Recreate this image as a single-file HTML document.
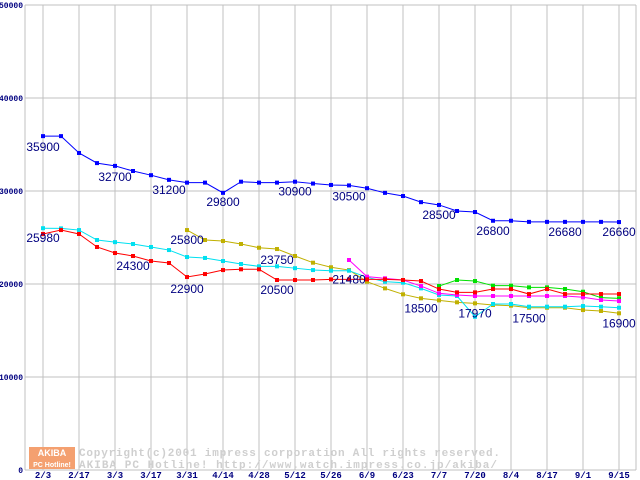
<!DOCTYPE html>
<html><head><meta charset="utf-8">
<style>
html,body{margin:0;padding:0;background:#fff;}
svg{display:block;}
</style></head>
<body>
<svg id="chart" width="640" height="480" xmlns="http://www.w3.org/2000/svg"></svg>
<script>
const xLabels = ["2/3","2/17","3/3","3/17","3/31","4/14","4/28","5/12","5/26","6/9","6/23","7/7","7/20","8/4","8/17","9/1","9/15"];
const yTicks = [0,10000,20000,30000,40000,50000];
const blue = [35900,35900,34090,33000,32700,32150,31700,31200,30900,30900,29800,31000,30900,30900,31000,30800,30650,30600,30300,29800,29460,28800,28500,27850,27740,26800,26800,26680,26680,26680,26680,26680,26660];
const cyan = [26000,25980,25800,24730,24500,24300,23980,23650,22900,22800,22470,22150,21900,21900,21700,21500,21430,21430,20720,20250,20140,19530,18820,18710,16480,17850,17850,17560,17560,17560,17630,17560,17450];
const red = [25380,25800,25380,23980,23330,23010,22470,22260,20750,21070,21500,21580,21580,20430,20430,20430,20500,20500,20500,20500,20430,20320,19460,19100,19100,19460,19460,18920,19460,18920,18920,18920,18920];
const magenta = [null,null,null,null,null,null,null,null,null,null,null,null,null,null,null,null,null,22580,20790,20610,20430,19780,19000,18820,18710,18710,18710,18710,18710,18710,18570,18280,18170];
const green = [null,null,null,null,null,null,null,null,null,null,null,null,null,null,null,null,null,null,null,null,null,null,19780,20430,20320,19820,19820,19640,19640,19460,19170,18530,18460];
const olive = [null,null,null,null,null,null,null,null,25800,24730,24620,24300,23900,23760,23010,22290,21800,21500,20250,19530,18890,18460,18240,18030,17920,17740,17670,17450,17450,17450,17200,17100,16850];
const annotations = [
 ["35900",0,"blue"],["32700",4,"blue"],["31200",7,"blue"],["29800",10,"blue"],["30900",14,"blue"],["30500",17,"blue"],["28500",22,"blue"],["26800",25,"blue"],["26680",29,"blue"],["26660",32,"blue"],
 ["25980",0,"cyan"],["24300",5,"red"],["22900",8,"red"],["25800",8,"olive"],["23750",13,"olive"],["20500",13,"red"],["21480",17,"cyan"],["18500",21,"olive"],["17970",24,"olive"],["17500",27,"cyan"],["16900",32,"olive"]
];
const annOffsets = {"35900":[0,10],"32700":[0,10],"31200":[0,9],"29800":[0,8],"30900":[0,9],"30500":[0,10],"28500":[0,9],"26800":[0,9],"26680":[0,9],"26660":[0,9],"25980":[0,9],"24300":[0,9],"22900":[0,11],"25800":[0,9],"23750":[0,10],"20500":[0,9],"21480":[0,8],"18500":[0,9],"17970":[0,9],"17500":[0,11],"16900":[0,9]};

const NS="http://www.w3.org/2000/svg";
const svg=document.getElementById('chart');
const X0=43, DX=18, Y0=470, YS=93/10000, LEFT=25, RIGHT=636, TOP=5;
function xScale(i){return X0+i*DX;}
function yScale(v){return Y0-v*YS;}
function mk(tag,attrs){const e=document.createElementNS(NS,tag);for(const k in attrs)e.setAttribute(k,attrs[k]);svg.appendChild(e);return e;}

yTicks.forEach(v=>{
 const l=mk('line',{x1:LEFT,x2:RIGHT,y1:yScale(v),y2:yScale(v),stroke:'#c0c0c0','stroke-width':1});
 
 
 const t=mk('text',{x:LEFT-2,y:yScale(v)+3,'text-anchor':'end','font-family':'Liberation Mono, monospace','font-size':'8','font-weight':'bold',fill:'#000080'});
 t.textContent=String(v);
 
 
});
xLabels.forEach((s,k)=>{
 const x=xScale(k*2);
 const l=mk('line',{x1:x,x2:x,y1:TOP,y2:Y0,stroke:'#c0c0c0','stroke-width':1});
 
 
 const t=mk('text',{x:x,y:478,'text-anchor':'middle','font-family':'Liberation Mono, monospace','font-size':'9','font-weight':'bold',fill:'#000080'});
 t.textContent=s;
 
 
});
const la=mk('line',{x1:LEFT,x2:LEFT,y1:TOP,y2:Y0,stroke:'#c0c0c0'});


const ra=mk('line',{x1:RIGHT,x2:RIGHT,y1:TOP,y2:Y0,stroke:'#c0c0c0'});


const ba=mk('line',{x1:LEFT,x2:RIGHT,y1:Y0,y2:Y0,stroke:'#c0c0c0'});



const logo=mk('rect',{x:29,y:447,width:46,height:22,fill:'#f4a070'});


const lt1=mk('text',{x:52,y:456,'text-anchor':'middle','font-family':'Liberation Sans, sans-serif','font-size':'9','font-weight':'bold',fill:'#fff'});
lt1.textContent='AKIBA';


const lt2=mk('text',{x:52,y:467,'text-anchor':'middle','font-family':'Liberation Sans, sans-serif','font-size':'7','font-weight':'bold',fill:'#fff'});
lt2.textContent='PC Hotline!';


const w1=mk('text',{x:79,y:456,'font-family':'Liberation Mono, monospace','font-size':'11','font-weight':'bold',fill:'#cfcfcf',textLength:421,lengthAdjust:'spacing'});
w1.textContent='Copyright(c)2001 impress corporation All rights reserved.';


const w2=mk('text',{x:79,y:468,'font-family':'Liberation Mono, monospace','font-size':'11','font-weight':'bold',fill:'#cfcfcf',textLength:418,lengthAdjust:'spacing'});
w2.textContent='AKIBA PC Hotline!  http://www.watch.impress.co.jp/akiba/';



const seriesList=[["green",green,"#00e000"],["olive",olive,"#c0b000"],["cyan",cyan,"#00e0f0"],["magenta",magenta,"#ff00ff"],["red",red,"#ff0000"],["blue",blue,"#0000ff"]];
const seriesMap={};
seriesList.forEach(([name,vals,col])=>{
 seriesMap[name]=vals;
 let d='';let started=false;
 vals.forEach((v,i)=>{ if(v==null){started=false;return;} d+=(started?'L':'M')+xScale(i)+' '+yScale(v)+' '; started=true; });
 const p=mk('path',{d:d,fill:'none',stroke:col,'stroke-width':1});
 
 
 vals.forEach((v,i)=>{ if(v==null)return;
  const r=mk('rect',{x:xScale(i)-2,y:yScale(v)-2,width:4,height:4,fill:col});
  
  
 });
});
annotations.forEach(([txt,i,s])=>{
 const v=seriesMap[s][i];
 const off=annOffsets[txt]||[0,9];
 const t=mk('text',{x:xScale(i)+off[0],y:yScale(v)+off[1]+5,'text-anchor':'middle','font-family':'Liberation Sans, sans-serif','font-size':'12',fill:'#000080'});
 t.textContent=txt;
 
 
});
</script>
</body></html>
